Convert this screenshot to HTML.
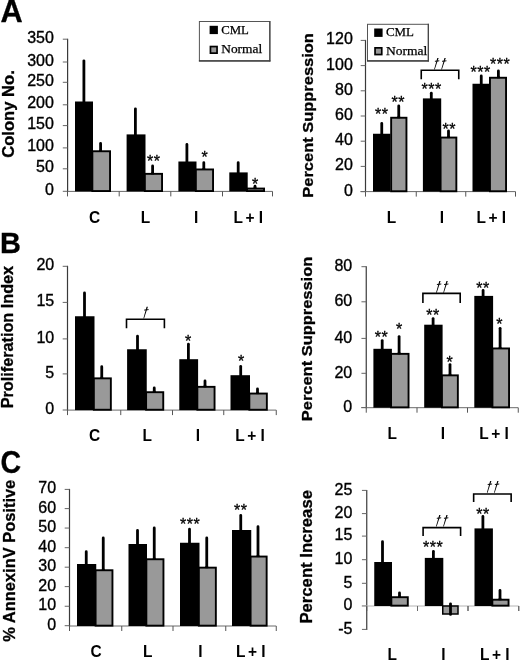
<!DOCTYPE html>
<html><head><meta charset="utf-8"><title>Figure</title>
<style>html,body{margin:0;padding:0;background:#fff;}body{width:520px;height:662px;overflow:hidden;font-family:"Liberation Sans",sans-serif;}svg{display:block;will-change:transform;filter:grayscale(1);}</style>
</head><body>
<svg width="520" height="662" viewBox="0 0 520 662">
<rect x="0" y="0" width="520" height="662" fill="#ffffff"/>
<text x="0.6" y="22.3" font-family='"Liberation Sans", sans-serif' font-size="31" font-weight="bold" font-style="normal" text-anchor="start" textLength="22.2" lengthAdjust="spacingAndGlyphs" stroke="#000" stroke-width="0.3">A</text>
<text x="0" y="252.9" font-family='"Liberation Sans", sans-serif' font-size="30" font-weight="bold" font-style="normal" text-anchor="start" textLength="20.9" lengthAdjust="spacingAndGlyphs" stroke="#000" stroke-width="0.3">B</text>
<text x="0.4" y="472.5" font-family='"Liberation Sans", sans-serif' font-size="31.5" font-weight="bold" font-style="normal" text-anchor="start" textLength="20.6" lengthAdjust="spacingAndGlyphs" stroke="#000" stroke-width="0.3">C</text>
<line x1="67.6" y1="38.7" x2="67.6" y2="191.9" stroke="#3a3a3a" stroke-width="1.2" stroke-linecap="butt"/>
<line x1="62.8" y1="191.3" x2="67.6" y2="191.3" stroke="#666666" stroke-width="1" stroke-linecap="butt"/>
<text x="53.9" y="194.8" font-family='"Liberation Sans", sans-serif' font-size="16" font-weight="normal" font-style="normal" text-anchor="end" textLength="8.9" lengthAdjust="spacingAndGlyphs" stroke="#000" stroke-width="0.35">0</text>
<line x1="62.8" y1="168.8" x2="67.6" y2="168.8" stroke="#666666" stroke-width="1" stroke-linecap="butt"/>
<text x="53.9" y="172.3" font-family='"Liberation Sans", sans-serif' font-size="16" font-weight="normal" font-style="normal" text-anchor="end" textLength="17.8" lengthAdjust="spacingAndGlyphs" stroke="#000" stroke-width="0.35">50</text>
<line x1="62.8" y1="147.9" x2="67.6" y2="147.9" stroke="#666666" stroke-width="1" stroke-linecap="butt"/>
<text x="53.9" y="151.4" font-family='"Liberation Sans", sans-serif' font-size="16" font-weight="normal" font-style="normal" text-anchor="end" textLength="26.7" lengthAdjust="spacingAndGlyphs" stroke="#000" stroke-width="0.35">100</text>
<line x1="62.8" y1="125.6" x2="67.6" y2="125.6" stroke="#666666" stroke-width="1" stroke-linecap="butt"/>
<text x="53.9" y="129.1" font-family='"Liberation Sans", sans-serif' font-size="16" font-weight="normal" font-style="normal" text-anchor="end" textLength="26.7" lengthAdjust="spacingAndGlyphs" stroke="#000" stroke-width="0.35">150</text>
<line x1="62.8" y1="104.8" x2="67.6" y2="104.8" stroke="#666666" stroke-width="1" stroke-linecap="butt"/>
<text x="53.9" y="108.3" font-family='"Liberation Sans", sans-serif' font-size="16" font-weight="normal" font-style="normal" text-anchor="end" textLength="26.7" lengthAdjust="spacingAndGlyphs" stroke="#000" stroke-width="0.35">200</text>
<line x1="62.8" y1="82.3" x2="67.6" y2="82.3" stroke="#666666" stroke-width="1" stroke-linecap="butt"/>
<text x="53.9" y="85.8" font-family='"Liberation Sans", sans-serif' font-size="16" font-weight="normal" font-style="normal" text-anchor="end" textLength="26.7" lengthAdjust="spacingAndGlyphs" stroke="#000" stroke-width="0.35">250</text>
<line x1="62.8" y1="62" x2="67.6" y2="62" stroke="#666666" stroke-width="1" stroke-linecap="butt"/>
<text x="53.9" y="65.5" font-family='"Liberation Sans", sans-serif' font-size="16" font-weight="normal" font-style="normal" text-anchor="end" textLength="26.7" lengthAdjust="spacingAndGlyphs" stroke="#000" stroke-width="0.35">300</text>
<line x1="62.8" y1="39.2" x2="67.6" y2="39.2" stroke="#666666" stroke-width="1" stroke-linecap="butt"/>
<text x="53.9" y="42.7" font-family='"Liberation Sans", sans-serif' font-size="16" font-weight="normal" font-style="normal" text-anchor="end" textLength="26.7" lengthAdjust="spacingAndGlyphs" stroke="#000" stroke-width="0.35">350</text>
<line x1="67.5" y1="191.4" x2="272.5" y2="191.4" stroke="#6a6a6a" stroke-width="1" stroke-linecap="butt"/>
<line x1="67.5" y1="191.4" x2="67.5" y2="196.4" stroke="#555" stroke-width="1" stroke-linecap="butt"/>
<line x1="119.2" y1="191.4" x2="119.2" y2="196.4" stroke="#555" stroke-width="1" stroke-linecap="butt"/>
<line x1="170.8" y1="191.4" x2="170.8" y2="196.4" stroke="#555" stroke-width="1" stroke-linecap="butt"/>
<line x1="222.5" y1="191.4" x2="222.5" y2="196.4" stroke="#555" stroke-width="1" stroke-linecap="butt"/>
<line x1="272.5" y1="191.4" x2="272.5" y2="196.4" stroke="#555" stroke-width="1" stroke-linecap="butt"/>
<line x1="83.9" y1="60.8" x2="83.9" y2="102.5" stroke="#000" stroke-width="2.8" stroke-linecap="round"/>
<rect x="75" y="101.5" width="18" height="89.9" fill="#000"/>
<line x1="100.6" y1="143.4" x2="100.6" y2="151.3" stroke="#000" stroke-width="2.8" stroke-linecap="round"/>
<rect x="92.35" y="151.25" width="17.7" height="39.8" fill="#999999" stroke="#000" stroke-width="1.9"/>
<line x1="100.6" y1="149.8" x2="100.6" y2="151.8" stroke="#000" stroke-width="2.8" stroke-linecap="butt"/>
<line x1="135.4" y1="108.8" x2="135.4" y2="135.4" stroke="#000" stroke-width="2.8" stroke-linecap="round"/>
<rect x="126.6" y="134.4" width="18.9" height="57" fill="#000"/>
<line x1="152.6" y1="165.9" x2="152.6" y2="173.9" stroke="#000" stroke-width="2.8" stroke-linecap="round"/>
<rect x="144.85" y="173.85" width="17.2" height="17.2" fill="#999999" stroke="#000" stroke-width="1.9"/>
<line x1="152.6" y1="172.4" x2="152.6" y2="174.4" stroke="#000" stroke-width="2.8" stroke-linecap="butt"/>
<line x1="186.9" y1="144.5" x2="186.9" y2="162.5" stroke="#000" stroke-width="2.8" stroke-linecap="round"/>
<rect x="178.4" y="161.5" width="18.1" height="29.9" fill="#000"/>
<line x1="203.8" y1="162.7" x2="203.8" y2="169.5" stroke="#000" stroke-width="2.8" stroke-linecap="round"/>
<rect x="195.85" y="169.45" width="17.2" height="21.6" fill="#999999" stroke="#000" stroke-width="1.9"/>
<line x1="203.8" y1="168" x2="203.8" y2="170" stroke="#000" stroke-width="2.8" stroke-linecap="butt"/>
<line x1="238.2" y1="162.7" x2="238.2" y2="173.4" stroke="#000" stroke-width="2.8" stroke-linecap="round"/>
<rect x="229.3" y="172.4" width="18.4" height="19" fill="#000"/>
<line x1="255" y1="186.2" x2="255" y2="188.6" stroke="#000" stroke-width="2.8" stroke-linecap="round"/>
<rect x="247.05" y="188.55" width="17" height="2.5" fill="#999999" stroke="#000" stroke-width="1.9"/>
<line x1="255" y1="187.1" x2="255" y2="189.1" stroke="#000" stroke-width="2.8" stroke-linecap="butt"/>
<text x="153.75" y="167.06" font-family='"Liberation Sans", sans-serif' font-size="16" font-weight="normal" font-style="normal" text-anchor="middle" letter-spacing="0.5" stroke="#000" stroke-width="0.3">**</text>
<text x="204.75" y="163.46" font-family='"Liberation Sans", sans-serif' font-size="16" font-weight="normal" font-style="normal" text-anchor="middle" letter-spacing="0.5" stroke="#000" stroke-width="0.3">*</text>
<text x="255.45" y="189.76" font-family='"Liberation Sans", sans-serif' font-size="16" font-weight="normal" font-style="normal" text-anchor="middle" letter-spacing="0.5" stroke="#000" stroke-width="0.3">*</text>
<text transform="translate(94.5,222.7) scale(0.91,1)" x="0" y="0" font-family='"Liberation Sans", sans-serif' font-size="17" font-weight="bold" text-anchor="middle">C</text>
<text transform="translate(145.4,222.7) scale(0.91,1)" x="0" y="0" font-family='"Liberation Sans", sans-serif' font-size="17" font-weight="bold" text-anchor="middle">L</text>
<text transform="translate(196.25,222.7) scale(0.91,1)" x="0" y="0" font-family='"Liberation Sans", sans-serif' font-size="17" font-weight="bold" text-anchor="middle">I</text>
<text transform="translate(234.5,222.7) scale(0.91,1)" x="-1.24 12.07 26.6" y="0" font-family='"Liberation Sans", sans-serif' font-size="17" font-weight="bold">L+I</text>
<text transform="translate(13.8,114) rotate(-90)" x="0" y="0" font-family='"Liberation Sans", sans-serif' font-size="16.2" font-weight="bold" text-anchor="middle" stroke="#000" stroke-width="0.3" textLength="87.5" lengthAdjust="spacingAndGlyphs">Colony No.</text>
<rect x="199.4" y="21.5" width="70.5" height="39.5" fill="#fff" stroke="#555" stroke-width="1"/>
<line x1="198.9" y1="60.9" x2="270.4" y2="60.9" stroke="#333" stroke-width="1.3" stroke-linecap="butt"/>
<line x1="269.8" y1="21" x2="269.8" y2="61.5" stroke="#444" stroke-width="1.2" stroke-linecap="butt"/>
<rect x="209.6" y="25.8" width="8.3" height="8.3" fill="#000"/>
<rect x="210.45" y="46.55" width="6.6" height="6.6" fill="#999999" stroke="#000" stroke-width="1.7"/>
<text x="221.2" y="33.8" font-family='"Liberation Serif", serif' font-size="13" font-weight="normal" font-style="normal" text-anchor="start" textLength="27.7" lengthAdjust="spacingAndGlyphs" stroke="#000" stroke-width="0.25">CML</text>
<text x="221.2" y="53.2" font-family='"Liberation Serif", serif' font-size="13" font-weight="normal" font-style="normal" text-anchor="start" textLength="41" lengthAdjust="spacingAndGlyphs" stroke="#000" stroke-width="0.25">Normal</text>
<line x1="365.5" y1="39.9" x2="365.5" y2="192.1" stroke="#3a3a3a" stroke-width="1.2" stroke-linecap="butt"/>
<line x1="360.7" y1="191.6" x2="365.5" y2="191.6" stroke="#666666" stroke-width="1" stroke-linecap="butt"/>
<text x="352.8" y="195.5" font-family='"Liberation Sans", sans-serif' font-size="16" font-weight="normal" font-style="normal" text-anchor="end" textLength="8.9" lengthAdjust="spacingAndGlyphs" stroke="#000" stroke-width="0.35">0</text>
<line x1="360.7" y1="166.4" x2="365.5" y2="166.4" stroke="#666666" stroke-width="1" stroke-linecap="butt"/>
<text x="352.8" y="170.3" font-family='"Liberation Sans", sans-serif' font-size="16" font-weight="normal" font-style="normal" text-anchor="end" textLength="17.8" lengthAdjust="spacingAndGlyphs" stroke="#000" stroke-width="0.35">20</text>
<line x1="360.7" y1="141.2" x2="365.5" y2="141.2" stroke="#666666" stroke-width="1" stroke-linecap="butt"/>
<text x="352.8" y="145.1" font-family='"Liberation Sans", sans-serif' font-size="16" font-weight="normal" font-style="normal" text-anchor="end" textLength="17.8" lengthAdjust="spacingAndGlyphs" stroke="#000" stroke-width="0.35">40</text>
<line x1="360.7" y1="116" x2="365.5" y2="116" stroke="#666666" stroke-width="1" stroke-linecap="butt"/>
<text x="352.8" y="119.9" font-family='"Liberation Sans", sans-serif' font-size="16" font-weight="normal" font-style="normal" text-anchor="end" textLength="17.8" lengthAdjust="spacingAndGlyphs" stroke="#000" stroke-width="0.35">60</text>
<line x1="360.7" y1="90.8" x2="365.5" y2="90.8" stroke="#666666" stroke-width="1" stroke-linecap="butt"/>
<text x="352.8" y="94.7" font-family='"Liberation Sans", sans-serif' font-size="16" font-weight="normal" font-style="normal" text-anchor="end" textLength="17.8" lengthAdjust="spacingAndGlyphs" stroke="#000" stroke-width="0.35">80</text>
<line x1="360.7" y1="65.6" x2="365.5" y2="65.6" stroke="#666666" stroke-width="1" stroke-linecap="butt"/>
<text x="352.8" y="69.5" font-family='"Liberation Sans", sans-serif' font-size="16" font-weight="normal" font-style="normal" text-anchor="end" textLength="26.7" lengthAdjust="spacingAndGlyphs" stroke="#000" stroke-width="0.35">100</text>
<line x1="360.7" y1="40.4" x2="365.5" y2="40.4" stroke="#666666" stroke-width="1" stroke-linecap="butt"/>
<text x="352.8" y="44.3" font-family='"Liberation Sans", sans-serif' font-size="16" font-weight="normal" font-style="normal" text-anchor="end" textLength="26.7" lengthAdjust="spacingAndGlyphs" stroke="#000" stroke-width="0.35">120</text>
<line x1="360.5" y1="191.6" x2="515.5" y2="191.6" stroke="#6a6a6a" stroke-width="1" stroke-linecap="butt"/>
<line x1="365.5" y1="191.6" x2="365.5" y2="196.6" stroke="#555" stroke-width="1" stroke-linecap="butt"/>
<line x1="416.25" y1="191.6" x2="416.25" y2="196.6" stroke="#555" stroke-width="1" stroke-linecap="butt"/>
<line x1="465.75" y1="191.6" x2="465.75" y2="196.6" stroke="#555" stroke-width="1" stroke-linecap="butt"/>
<line x1="515.5" y1="191.6" x2="515.5" y2="196.6" stroke="#555" stroke-width="1" stroke-linecap="butt"/>
<line x1="381.75" y1="123.4" x2="381.75" y2="134.75" stroke="#000" stroke-width="2.8" stroke-linecap="round"/>
<rect x="373" y="133.75" width="17.5" height="57.85" fill="#000"/>
<line x1="398.75" y1="105.9" x2="398.75" y2="117.8" stroke="#000" stroke-width="2.8" stroke-linecap="round"/>
<rect x="391.15" y="117.75" width="15.3" height="73.5" fill="#999999" stroke="#000" stroke-width="1.9"/>
<line x1="398.75" y1="116.3" x2="398.75" y2="118.3" stroke="#000" stroke-width="2.8" stroke-linecap="butt"/>
<line x1="431.3" y1="93.2" x2="431.3" y2="99.4" stroke="#000" stroke-width="2.8" stroke-linecap="round"/>
<rect x="422.9" y="98.4" width="18.3" height="93.2" fill="#000"/>
<line x1="448.5" y1="130.9" x2="448.5" y2="137.6" stroke="#000" stroke-width="2.8" stroke-linecap="round"/>
<rect x="440.6" y="137.55" width="15.75" height="53.7" fill="#999999" stroke="#000" stroke-width="1.9"/>
<line x1="448.5" y1="136.1" x2="448.5" y2="138.1" stroke="#000" stroke-width="2.8" stroke-linecap="butt"/>
<line x1="481.25" y1="75.9" x2="481.25" y2="84.75" stroke="#000" stroke-width="2.8" stroke-linecap="round"/>
<rect x="472.5" y="83.75" width="18.25" height="107.85" fill="#000"/>
<line x1="498.4" y1="70.9" x2="498.4" y2="77.8" stroke="#000" stroke-width="2.8" stroke-linecap="round"/>
<rect x="489.95" y="77.75" width="16.1" height="113.5" fill="#999999" stroke="#000" stroke-width="1.9"/>
<line x1="498.4" y1="76.3" x2="498.4" y2="78.3" stroke="#000" stroke-width="2.8" stroke-linecap="butt"/>
<text x="381.75" y="120.36" font-family='"Liberation Sans", sans-serif' font-size="16" font-weight="normal" font-style="normal" text-anchor="middle" letter-spacing="0.5" stroke="#000" stroke-width="0.3">**</text>
<text x="398.25" y="107.86" font-family='"Liberation Sans", sans-serif' font-size="16" font-weight="normal" font-style="normal" text-anchor="middle" letter-spacing="0.5" stroke="#000" stroke-width="0.3">**</text>
<text x="431.65" y="94.66" font-family='"Liberation Sans", sans-serif' font-size="16" font-weight="normal" font-style="normal" text-anchor="middle" letter-spacing="0.5" stroke="#000" stroke-width="0.3">***</text>
<text x="449.35" y="134.86" font-family='"Liberation Sans", sans-serif' font-size="16" font-weight="normal" font-style="normal" text-anchor="middle" letter-spacing="0.5" stroke="#000" stroke-width="0.3">**</text>
<text x="480.55" y="78.36" font-family='"Liberation Sans", sans-serif' font-size="16" font-weight="normal" font-style="normal" text-anchor="middle" letter-spacing="0.5" stroke="#000" stroke-width="0.3">***</text>
<text x="500.2" y="70.36" font-family='"Liberation Sans", sans-serif' font-size="16" font-weight="normal" font-style="normal" text-anchor="middle" letter-spacing="0.5" stroke="#000" stroke-width="0.3">***</text>
<path d="M421.25 79.2 V70.3 H458.75 V79.2" fill="none" stroke="#000" stroke-width="1.6" stroke-linejoin="miter"/>
<path d="M434.05 69.6 L437.3 57.9 L438.6 57.9 L434.75 69.6 Z" fill="#000"/>
<line x1="434.9" y1="61.3" x2="439.3" y2="60.8" stroke="#000" stroke-width="0.95" stroke-linecap="butt"/>
<path d="M441.2 69.6 L444.45 57.9 L445.75 57.9 L441.9 69.6 Z" fill="#000"/>
<line x1="442.05" y1="61.3" x2="446.45" y2="60.8" stroke="#000" stroke-width="0.95" stroke-linecap="butt"/>
<text transform="translate(391.5,222.5) scale(0.91,1)" x="0" y="0" font-family='"Liberation Sans", sans-serif' font-size="17" font-weight="bold" text-anchor="middle">L</text>
<text transform="translate(441.95,222.5) scale(0.91,1)" x="0" y="0" font-family='"Liberation Sans", sans-serif' font-size="17" font-weight="bold" text-anchor="middle">I</text>
<text transform="translate(477.6,222.5) scale(0.91,1)" x="-1.24 12.07 26.6" y="0" font-family='"Liberation Sans", sans-serif' font-size="17" font-weight="bold">L+I</text>
<text transform="translate(313,115.4) rotate(-90)" x="0" y="0" font-family='"Liberation Sans", sans-serif' font-size="15" font-weight="bold" text-anchor="middle" stroke="#000" stroke-width="0.3" textLength="164.5" lengthAdjust="spacingAndGlyphs">Percent Suppression</text>
<rect x="367.5" y="24.3" width="60.9" height="36.7" fill="#fff" stroke="#555" stroke-width="1"/>
<line x1="367" y1="60.9" x2="428.9" y2="60.9" stroke="#333" stroke-width="1.3" stroke-linecap="butt"/>
<line x1="428.3" y1="23.8" x2="428.3" y2="61.5" stroke="#444" stroke-width="1.2" stroke-linecap="butt"/>
<rect x="374.2" y="28.5" width="8.4" height="8.4" fill="#000"/>
<rect x="375.05" y="47.85" width="6.7" height="6.7" fill="#999999" stroke="#000" stroke-width="1.7"/>
<text x="385.9" y="36.1" font-family='"Liberation Serif", serif' font-size="13" font-weight="normal" font-style="normal" text-anchor="start" textLength="28" lengthAdjust="spacingAndGlyphs" stroke="#000" stroke-width="0.25">CML</text>
<text x="385.9" y="54.8" font-family='"Liberation Serif", serif' font-size="13" font-weight="normal" font-style="normal" text-anchor="start" textLength="41.4" lengthAdjust="spacingAndGlyphs" stroke="#000" stroke-width="0.25">Normal</text>
<line x1="67.5" y1="265.8" x2="67.5" y2="410.6" stroke="#3a3a3a" stroke-width="1.2" stroke-linecap="butt"/>
<line x1="62.7" y1="410" x2="67.5" y2="410" stroke="#666666" stroke-width="1" stroke-linecap="butt"/>
<text x="54.2" y="413.9" font-family='"Liberation Sans", sans-serif' font-size="16" font-weight="normal" font-style="normal" text-anchor="end" textLength="8.9" lengthAdjust="spacingAndGlyphs" stroke="#000" stroke-width="0.35">0</text>
<line x1="62.7" y1="373.9" x2="67.5" y2="373.9" stroke="#666666" stroke-width="1" stroke-linecap="butt"/>
<text x="54.2" y="377.8" font-family='"Liberation Sans", sans-serif' font-size="16" font-weight="normal" font-style="normal" text-anchor="end" textLength="8.9" lengthAdjust="spacingAndGlyphs" stroke="#000" stroke-width="0.35">5</text>
<line x1="62.7" y1="338.9" x2="67.5" y2="338.9" stroke="#666666" stroke-width="1" stroke-linecap="butt"/>
<text x="54.2" y="342.8" font-family='"Liberation Sans", sans-serif' font-size="16" font-weight="normal" font-style="normal" text-anchor="end" textLength="17.8" lengthAdjust="spacingAndGlyphs" stroke="#000" stroke-width="0.35">10</text>
<line x1="62.7" y1="302.4" x2="67.5" y2="302.4" stroke="#666666" stroke-width="1" stroke-linecap="butt"/>
<text x="54.2" y="306.3" font-family='"Liberation Sans", sans-serif' font-size="16" font-weight="normal" font-style="normal" text-anchor="end" textLength="17.8" lengthAdjust="spacingAndGlyphs" stroke="#000" stroke-width="0.35">15</text>
<line x1="62.7" y1="266.3" x2="67.5" y2="266.3" stroke="#666666" stroke-width="1" stroke-linecap="butt"/>
<text x="54.2" y="270.2" font-family='"Liberation Sans", sans-serif' font-size="16" font-weight="normal" font-style="normal" text-anchor="end" textLength="17.8" lengthAdjust="spacingAndGlyphs" stroke="#000" stroke-width="0.35">20</text>
<line x1="67.5" y1="410.1" x2="276.25" y2="410.1" stroke="#6a6a6a" stroke-width="1" stroke-linecap="butt"/>
<line x1="67.5" y1="410.1" x2="67.5" y2="415.1" stroke="#555" stroke-width="1" stroke-linecap="butt"/>
<line x1="120.75" y1="410.1" x2="120.75" y2="415.1" stroke="#555" stroke-width="1" stroke-linecap="butt"/>
<line x1="172.5" y1="410.1" x2="172.5" y2="415.1" stroke="#555" stroke-width="1" stroke-linecap="butt"/>
<line x1="223.75" y1="410.1" x2="223.75" y2="415.1" stroke="#555" stroke-width="1" stroke-linecap="butt"/>
<line x1="276.25" y1="410.1" x2="276.25" y2="415.1" stroke="#555" stroke-width="1" stroke-linecap="butt"/>
<line x1="84.5" y1="292.9" x2="84.5" y2="317.25" stroke="#000" stroke-width="2.8" stroke-linecap="round"/>
<rect x="75" y="316.25" width="19.5" height="93.85" fill="#000"/>
<line x1="101.75" y1="366.65" x2="101.75" y2="378.4" stroke="#000" stroke-width="2.8" stroke-linecap="round"/>
<rect x="93.85" y="378.35" width="17" height="31.4" fill="#999999" stroke="#000" stroke-width="1.9"/>
<line x1="101.75" y1="376.9" x2="101.75" y2="378.9" stroke="#000" stroke-width="2.8" stroke-linecap="butt"/>
<line x1="137.5" y1="336.2" x2="137.5" y2="350.25" stroke="#000" stroke-width="2.8" stroke-linecap="round"/>
<rect x="127.1" y="349.25" width="19.65" height="60.85" fill="#000"/>
<line x1="154.25" y1="387.9" x2="154.25" y2="392.25" stroke="#000" stroke-width="2.8" stroke-linecap="round"/>
<rect x="146.1" y="392.2" width="17.15" height="17.55" fill="#999999" stroke="#000" stroke-width="1.9"/>
<line x1="154.25" y1="390.75" x2="154.25" y2="392.75" stroke="#000" stroke-width="2.8" stroke-linecap="butt"/>
<line x1="188.4" y1="344.2" x2="188.4" y2="360.2" stroke="#000" stroke-width="2.8" stroke-linecap="round"/>
<rect x="179.3" y="359.2" width="18.8" height="50.9" fill="#000"/>
<line x1="205" y1="380.9" x2="205" y2="386.9" stroke="#000" stroke-width="2.8" stroke-linecap="round"/>
<rect x="197.35" y="386.85" width="17.2" height="22.9" fill="#999999" stroke="#000" stroke-width="1.9"/>
<line x1="205" y1="385.4" x2="205" y2="387.4" stroke="#000" stroke-width="2.8" stroke-linecap="butt"/>
<line x1="240.7" y1="366.4" x2="240.7" y2="376.2" stroke="#000" stroke-width="2.8" stroke-linecap="round"/>
<rect x="230.5" y="375.2" width="19.5" height="34.9" fill="#000"/>
<line x1="257.5" y1="388.9" x2="257.5" y2="393.6" stroke="#000" stroke-width="2.8" stroke-linecap="round"/>
<rect x="249.35" y="393.55" width="17.5" height="16.2" fill="#999999" stroke="#000" stroke-width="1.9"/>
<line x1="257.5" y1="392.1" x2="257.5" y2="394.1" stroke="#000" stroke-width="2.8" stroke-linecap="butt"/>
<text x="188.45" y="346.96" font-family='"Liberation Sans", sans-serif' font-size="16" font-weight="normal" font-style="normal" text-anchor="middle" letter-spacing="0.5" stroke="#000" stroke-width="0.3">*</text>
<text x="241.25" y="367.36" font-family='"Liberation Sans", sans-serif' font-size="16" font-weight="normal" font-style="normal" text-anchor="middle" letter-spacing="0.5" stroke="#000" stroke-width="0.3">*</text>
<path d="M126.5 328.3 V319.2 H164.4 V328.3" fill="none" stroke="#000" stroke-width="1.6" stroke-linejoin="miter"/>
<path d="M143.35 318.4 L146.6 306.7 L147.9 306.7 L144.05 318.4 Z" fill="#000"/>
<line x1="144.2" y1="310.1" x2="148.6" y2="309.6" stroke="#000" stroke-width="0.95" stroke-linecap="butt"/>
<text transform="translate(94.6,440.8) scale(0.91,1)" x="0" y="0" font-family='"Liberation Sans", sans-serif' font-size="17" font-weight="bold" text-anchor="middle">C</text>
<text transform="translate(147.3,440.8) scale(0.91,1)" x="0" y="0" font-family='"Liberation Sans", sans-serif' font-size="17" font-weight="bold" text-anchor="middle">L</text>
<text transform="translate(198,440.8) scale(0.91,1)" x="0" y="0" font-family='"Liberation Sans", sans-serif' font-size="17" font-weight="bold" text-anchor="middle">I</text>
<text transform="translate(236.25,440.8) scale(0.91,1)" x="-1.24 12.07 26.6" y="0" font-family='"Liberation Sans", sans-serif' font-size="17" font-weight="bold">L+I</text>
<text transform="translate(13.3,337.1) rotate(-90)" x="0" y="0" font-family='"Liberation Sans", sans-serif' font-size="16.2" font-weight="bold" text-anchor="middle" stroke="#000" stroke-width="0.3" textLength="142.5" lengthAdjust="spacingAndGlyphs">Proliferation Index</text>
<line x1="366.25" y1="266.2" x2="366.25" y2="408.2" stroke="#3a3a3a" stroke-width="1.2" stroke-linecap="butt"/>
<line x1="361.45" y1="407.5" x2="366.25" y2="407.5" stroke="#666666" stroke-width="1" stroke-linecap="butt"/>
<text x="352.2" y="411.9" font-family='"Liberation Sans", sans-serif' font-size="16" font-weight="normal" font-style="normal" text-anchor="end" textLength="8.9" lengthAdjust="spacingAndGlyphs" stroke="#000" stroke-width="0.35">0</text>
<line x1="361.45" y1="373.3" x2="366.25" y2="373.3" stroke="#666666" stroke-width="1" stroke-linecap="butt"/>
<text x="352.2" y="377.7" font-family='"Liberation Sans", sans-serif' font-size="16" font-weight="normal" font-style="normal" text-anchor="end" textLength="17.8" lengthAdjust="spacingAndGlyphs" stroke="#000" stroke-width="0.35">20</text>
<line x1="361.45" y1="338.4" x2="366.25" y2="338.4" stroke="#666666" stroke-width="1" stroke-linecap="butt"/>
<text x="352.2" y="342.8" font-family='"Liberation Sans", sans-serif' font-size="16" font-weight="normal" font-style="normal" text-anchor="end" textLength="17.8" lengthAdjust="spacingAndGlyphs" stroke="#000" stroke-width="0.35">40</text>
<line x1="361.45" y1="301.8" x2="366.25" y2="301.8" stroke="#666666" stroke-width="1" stroke-linecap="butt"/>
<text x="352.2" y="306.2" font-family='"Liberation Sans", sans-serif' font-size="16" font-weight="normal" font-style="normal" text-anchor="end" textLength="17.8" lengthAdjust="spacingAndGlyphs" stroke="#000" stroke-width="0.35">60</text>
<line x1="361.45" y1="266.7" x2="366.25" y2="266.7" stroke="#666666" stroke-width="1" stroke-linecap="butt"/>
<text x="352.2" y="271.1" font-family='"Liberation Sans", sans-serif' font-size="16" font-weight="normal" font-style="normal" text-anchor="end" textLength="17.8" lengthAdjust="spacingAndGlyphs" stroke="#000" stroke-width="0.35">80</text>
<line x1="361.25" y1="407.7" x2="518.25" y2="407.7" stroke="#6a6a6a" stroke-width="1" stroke-linecap="butt"/>
<line x1="366.25" y1="407.7" x2="366.25" y2="412.7" stroke="#555" stroke-width="1" stroke-linecap="butt"/>
<line x1="417" y1="407.7" x2="417" y2="412.7" stroke="#555" stroke-width="1" stroke-linecap="butt"/>
<line x1="467.5" y1="407.7" x2="467.5" y2="412.7" stroke="#555" stroke-width="1" stroke-linecap="butt"/>
<line x1="518.25" y1="407.7" x2="518.25" y2="412.7" stroke="#555" stroke-width="1" stroke-linecap="butt"/>
<line x1="382.2" y1="340.6" x2="382.2" y2="349.8" stroke="#000" stroke-width="2.8" stroke-linecap="round"/>
<rect x="373.4" y="348.8" width="18.5" height="58.9" fill="#000"/>
<line x1="399.1" y1="336.6" x2="399.1" y2="353.9" stroke="#000" stroke-width="2.8" stroke-linecap="round"/>
<rect x="391.05" y="353.85" width="17.5" height="53.5" fill="#999999" stroke="#000" stroke-width="1.9"/>
<line x1="399.1" y1="352.4" x2="399.1" y2="354.4" stroke="#000" stroke-width="2.8" stroke-linecap="butt"/>
<line x1="433.1" y1="318.6" x2="433.1" y2="325.7" stroke="#000" stroke-width="2.8" stroke-linecap="round"/>
<rect x="424.2" y="324.7" width="18.4" height="83" fill="#000"/>
<line x1="450" y1="364.6" x2="450" y2="375.4" stroke="#000" stroke-width="2.8" stroke-linecap="round"/>
<rect x="441.95" y="375.35" width="15.9" height="32" fill="#999999" stroke="#000" stroke-width="1.9"/>
<line x1="450" y1="373.9" x2="450" y2="375.9" stroke="#000" stroke-width="2.8" stroke-linecap="butt"/>
<line x1="483.1" y1="290.5" x2="483.1" y2="296.9" stroke="#000" stroke-width="2.8" stroke-linecap="round"/>
<rect x="474.3" y="295.9" width="18.8" height="111.8" fill="#000"/>
<line x1="500.1" y1="328.3" x2="500.1" y2="348.5" stroke="#000" stroke-width="2.8" stroke-linecap="round"/>
<rect x="492.45" y="348.45" width="16.6" height="58.9" fill="#999999" stroke="#000" stroke-width="1.9"/>
<line x1="500.1" y1="347" x2="500.1" y2="349" stroke="#000" stroke-width="2.8" stroke-linecap="butt"/>
<text x="381.45" y="343.46" font-family='"Liberation Sans", sans-serif' font-size="16" font-weight="normal" font-style="normal" text-anchor="middle" letter-spacing="0.5" stroke="#000" stroke-width="0.3">**</text>
<text x="399.45" y="335.46" font-family='"Liberation Sans", sans-serif' font-size="16" font-weight="normal" font-style="normal" text-anchor="middle" letter-spacing="0.5" stroke="#000" stroke-width="0.3">*</text>
<text x="432.95" y="320.86" font-family='"Liberation Sans", sans-serif' font-size="16" font-weight="normal" font-style="normal" text-anchor="middle" letter-spacing="0.5" stroke="#000" stroke-width="0.3">**</text>
<text x="449.85" y="367.86" font-family='"Liberation Sans", sans-serif' font-size="16" font-weight="normal" font-style="normal" text-anchor="middle" letter-spacing="0.5" stroke="#000" stroke-width="0.3">*</text>
<text x="483.05" y="294.26" font-family='"Liberation Sans", sans-serif' font-size="16" font-weight="normal" font-style="normal" text-anchor="middle" letter-spacing="0.5" stroke="#000" stroke-width="0.3">**</text>
<text x="499.65" y="330.46" font-family='"Liberation Sans", sans-serif' font-size="16" font-weight="normal" font-style="normal" text-anchor="middle" letter-spacing="0.5" stroke="#000" stroke-width="0.3">*</text>
<path d="M422.9 303 V293.4 H460.2 V303" fill="none" stroke="#000" stroke-width="1.6" stroke-linejoin="miter"/>
<path d="M436.05 292.8 L439.3 281.1 L440.6 281.1 L436.75 292.8 Z" fill="#000"/>
<line x1="436.9" y1="284.5" x2="441.3" y2="284" stroke="#000" stroke-width="0.95" stroke-linecap="butt"/>
<path d="M443.2 292.8 L446.45 281.1 L447.75 281.1 L443.9 292.8 Z" fill="#000"/>
<line x1="444.05" y1="284.5" x2="448.45" y2="284" stroke="#000" stroke-width="0.95" stroke-linecap="butt"/>
<text transform="translate(392.3,438.8) scale(0.91,1)" x="0" y="0" font-family='"Liberation Sans", sans-serif' font-size="17" font-weight="bold" text-anchor="middle">L</text>
<text transform="translate(442.85,438.8) scale(0.91,1)" x="0" y="0" font-family='"Liberation Sans", sans-serif' font-size="17" font-weight="bold" text-anchor="middle">I</text>
<text transform="translate(480.3,438.8) scale(0.91,1)" x="-1.24 12.07 26.6" y="0" font-family='"Liberation Sans", sans-serif' font-size="17" font-weight="bold">L+I</text>
<text transform="translate(311.8,339) rotate(-90)" x="0" y="0" font-family='"Liberation Sans", sans-serif' font-size="15" font-weight="bold" text-anchor="middle" stroke="#000" stroke-width="0.3" textLength="164.4" lengthAdjust="spacingAndGlyphs">Percent Suppression</text>
<line x1="69.5" y1="488.9" x2="69.5" y2="626.5" stroke="#3a3a3a" stroke-width="1.2" stroke-linecap="butt"/>
<line x1="64.7" y1="625.7" x2="69.5" y2="625.7" stroke="#666666" stroke-width="1" stroke-linecap="butt"/>
<text x="56.1" y="629.7" font-family='"Liberation Sans", sans-serif' font-size="16.5" font-weight="normal" font-style="normal" text-anchor="end" textLength="8.9" lengthAdjust="spacingAndGlyphs" stroke="#000" stroke-width="0.35">0</text>
<line x1="64.7" y1="606.25" x2="69.5" y2="606.25" stroke="#666666" stroke-width="1" stroke-linecap="butt"/>
<text x="56.1" y="610.25" font-family='"Liberation Sans", sans-serif' font-size="16.5" font-weight="normal" font-style="normal" text-anchor="end" textLength="17.8" lengthAdjust="spacingAndGlyphs" stroke="#000" stroke-width="0.35">10</text>
<line x1="64.7" y1="586.6" x2="69.5" y2="586.6" stroke="#666666" stroke-width="1" stroke-linecap="butt"/>
<text x="56.1" y="590.6" font-family='"Liberation Sans", sans-serif' font-size="16.5" font-weight="normal" font-style="normal" text-anchor="end" textLength="17.8" lengthAdjust="spacingAndGlyphs" stroke="#000" stroke-width="0.35">20</text>
<line x1="64.7" y1="567.2" x2="69.5" y2="567.2" stroke="#666666" stroke-width="1" stroke-linecap="butt"/>
<text x="56.1" y="571.2" font-family='"Liberation Sans", sans-serif' font-size="16.5" font-weight="normal" font-style="normal" text-anchor="end" textLength="17.8" lengthAdjust="spacingAndGlyphs" stroke="#000" stroke-width="0.35">30</text>
<line x1="64.7" y1="547.7" x2="69.5" y2="547.7" stroke="#666666" stroke-width="1" stroke-linecap="butt"/>
<text x="56.1" y="551.7" font-family='"Liberation Sans", sans-serif' font-size="16.5" font-weight="normal" font-style="normal" text-anchor="end" textLength="17.8" lengthAdjust="spacingAndGlyphs" stroke="#000" stroke-width="0.35">40</text>
<line x1="64.7" y1="528.05" x2="69.5" y2="528.05" stroke="#666666" stroke-width="1" stroke-linecap="butt"/>
<text x="56.1" y="532.05" font-family='"Liberation Sans", sans-serif' font-size="16.5" font-weight="normal" font-style="normal" text-anchor="end" textLength="17.8" lengthAdjust="spacingAndGlyphs" stroke="#000" stroke-width="0.35">50</text>
<line x1="64.7" y1="508.6" x2="69.5" y2="508.6" stroke="#666666" stroke-width="1" stroke-linecap="butt"/>
<text x="56.1" y="512.6" font-family='"Liberation Sans", sans-serif' font-size="16.5" font-weight="normal" font-style="normal" text-anchor="end" textLength="17.8" lengthAdjust="spacingAndGlyphs" stroke="#000" stroke-width="0.35">60</text>
<line x1="64.7" y1="489.4" x2="69.5" y2="489.4" stroke="#666666" stroke-width="1" stroke-linecap="butt"/>
<text x="56.1" y="493.4" font-family='"Liberation Sans", sans-serif' font-size="16.5" font-weight="normal" font-style="normal" text-anchor="end" textLength="17.8" lengthAdjust="spacingAndGlyphs" stroke="#000" stroke-width="0.35">70</text>
<line x1="69.5" y1="626" x2="276.25" y2="626" stroke="#6a6a6a" stroke-width="1" stroke-linecap="butt"/>
<line x1="69.5" y1="626" x2="69.5" y2="631" stroke="#555" stroke-width="1" stroke-linecap="butt"/>
<line x1="121.75" y1="626" x2="121.75" y2="631" stroke="#555" stroke-width="1" stroke-linecap="butt"/>
<line x1="173" y1="626" x2="173" y2="631" stroke="#555" stroke-width="1" stroke-linecap="butt"/>
<line x1="225.75" y1="626" x2="225.75" y2="631" stroke="#555" stroke-width="1" stroke-linecap="butt"/>
<line x1="276.25" y1="626" x2="276.25" y2="631" stroke="#555" stroke-width="1" stroke-linecap="butt"/>
<line x1="86.25" y1="551.65" x2="86.25" y2="565" stroke="#000" stroke-width="2.8" stroke-linecap="round"/>
<rect x="77" y="564" width="19.25" height="62" fill="#000"/>
<line x1="103.25" y1="537.9" x2="103.25" y2="570.3" stroke="#000" stroke-width="2.8" stroke-linecap="round"/>
<rect x="95.6" y="570.25" width="16.85" height="55.4" fill="#999999" stroke="#000" stroke-width="1.9"/>
<line x1="103.25" y1="568.8" x2="103.25" y2="570.8" stroke="#000" stroke-width="2.8" stroke-linecap="butt"/>
<line x1="137.5" y1="530.4" x2="137.5" y2="545" stroke="#000" stroke-width="2.8" stroke-linecap="round"/>
<rect x="128.5" y="544" width="18.5" height="82" fill="#000"/>
<line x1="154.25" y1="527.9" x2="154.25" y2="559.3" stroke="#000" stroke-width="2.8" stroke-linecap="round"/>
<rect x="146.35" y="559.25" width="17.1" height="66.4" fill="#999999" stroke="#000" stroke-width="1.9"/>
<line x1="154.25" y1="557.8" x2="154.25" y2="559.8" stroke="#000" stroke-width="2.8" stroke-linecap="butt"/>
<line x1="189.5" y1="529.15" x2="189.5" y2="543.75" stroke="#000" stroke-width="2.8" stroke-linecap="round"/>
<rect x="180" y="542.75" width="19.5" height="83.25" fill="#000"/>
<line x1="206.75" y1="537.9" x2="206.75" y2="567.7" stroke="#000" stroke-width="2.8" stroke-linecap="round"/>
<rect x="198.85" y="567.65" width="17" height="58" fill="#999999" stroke="#000" stroke-width="1.9"/>
<line x1="206.75" y1="566.2" x2="206.75" y2="568.2" stroke="#000" stroke-width="2.8" stroke-linecap="butt"/>
<line x1="240.75" y1="515.4" x2="240.75" y2="531" stroke="#000" stroke-width="2.8" stroke-linecap="round"/>
<rect x="232" y="530" width="19.25" height="96" fill="#000"/>
<line x1="258" y1="526.65" x2="258" y2="556.6" stroke="#000" stroke-width="2.8" stroke-linecap="round"/>
<rect x="250.6" y="556.55" width="16.05" height="69.1" fill="#999999" stroke="#000" stroke-width="1.9"/>
<line x1="258" y1="555.1" x2="258" y2="557.1" stroke="#000" stroke-width="2.8" stroke-linecap="butt"/>
<text x="190.1" y="529.76" font-family='"Liberation Sans", sans-serif' font-size="16" font-weight="normal" font-style="normal" text-anchor="middle" letter-spacing="0.5" stroke="#000" stroke-width="0.3">***</text>
<text x="240.75" y="516.26" font-family='"Liberation Sans", sans-serif' font-size="16" font-weight="normal" font-style="normal" text-anchor="middle" letter-spacing="0.5" stroke="#000" stroke-width="0.3">**</text>
<text transform="translate(96.15,656.9) scale(0.91,1)" x="0" y="0" font-family='"Liberation Sans", sans-serif' font-size="17" font-weight="bold" text-anchor="middle">C</text>
<text transform="translate(147.8,656.9) scale(0.91,1)" x="0" y="0" font-family='"Liberation Sans", sans-serif' font-size="17" font-weight="bold" text-anchor="middle">L</text>
<text transform="translate(200.5,656.9) scale(0.91,1)" x="0" y="0" font-family='"Liberation Sans", sans-serif' font-size="17" font-weight="bold" text-anchor="middle">I</text>
<text transform="translate(237,656.9) scale(0.91,1)" x="-1.24 12.07 26.6" y="0" font-family='"Liberation Sans", sans-serif' font-size="17" font-weight="bold">L+I</text>
<text transform="translate(14.9,560.75) rotate(-90)" x="0" y="0" font-family='"Liberation Sans", sans-serif' font-size="16.4" font-weight="bold" text-anchor="middle" stroke="#000" stroke-width="0.3" textLength="162" lengthAdjust="spacingAndGlyphs">% AnnexinV Positive</text>
<line x1="366.75" y1="489.9" x2="366.75" y2="629.9" stroke="#3a3a3a" stroke-width="1.2" stroke-linecap="butt"/>
<line x1="361.95" y1="629.4" x2="366.75" y2="629.4" stroke="#666666" stroke-width="1" stroke-linecap="butt"/>
<text x="352.4" y="633.6" font-family='"Liberation Sans", sans-serif' font-size="16" font-weight="normal" font-style="normal" text-anchor="end" textLength="14.23" lengthAdjust="spacingAndGlyphs" stroke="#000" stroke-width="0.35">-5</text>
<line x1="361.95" y1="605.9" x2="366.75" y2="605.9" stroke="#666666" stroke-width="1" stroke-linecap="butt"/>
<text x="352.4" y="610.1" font-family='"Liberation Sans", sans-serif' font-size="16" font-weight="normal" font-style="normal" text-anchor="end" textLength="8.9" lengthAdjust="spacingAndGlyphs" stroke="#000" stroke-width="0.35">0</text>
<line x1="361.95" y1="583.3" x2="366.75" y2="583.3" stroke="#666666" stroke-width="1" stroke-linecap="butt"/>
<text x="352.4" y="587.5" font-family='"Liberation Sans", sans-serif' font-size="16" font-weight="normal" font-style="normal" text-anchor="end" textLength="8.9" lengthAdjust="spacingAndGlyphs" stroke="#000" stroke-width="0.35">5</text>
<line x1="361.95" y1="559.7" x2="366.75" y2="559.7" stroke="#666666" stroke-width="1" stroke-linecap="butt"/>
<text x="352.4" y="563.9" font-family='"Liberation Sans", sans-serif' font-size="16" font-weight="normal" font-style="normal" text-anchor="end" textLength="17.8" lengthAdjust="spacingAndGlyphs" stroke="#000" stroke-width="0.35">10</text>
<line x1="361.95" y1="536.1" x2="366.75" y2="536.1" stroke="#666666" stroke-width="1" stroke-linecap="butt"/>
<text x="352.4" y="540.3" font-family='"Liberation Sans", sans-serif' font-size="16" font-weight="normal" font-style="normal" text-anchor="end" textLength="17.8" lengthAdjust="spacingAndGlyphs" stroke="#000" stroke-width="0.35">15</text>
<line x1="361.95" y1="513.6" x2="366.75" y2="513.6" stroke="#666666" stroke-width="1" stroke-linecap="butt"/>
<text x="352.4" y="517.8" font-family='"Liberation Sans", sans-serif' font-size="16" font-weight="normal" font-style="normal" text-anchor="end" textLength="17.8" lengthAdjust="spacingAndGlyphs" stroke="#000" stroke-width="0.35">20</text>
<line x1="361.95" y1="490.4" x2="366.75" y2="490.4" stroke="#666666" stroke-width="1" stroke-linecap="butt"/>
<text x="352.4" y="494.6" font-family='"Liberation Sans", sans-serif' font-size="16" font-weight="normal" font-style="normal" text-anchor="end" textLength="17.8" lengthAdjust="spacingAndGlyphs" stroke="#000" stroke-width="0.35">25</text>
<line x1="361.75" y1="606" x2="518.75" y2="606" stroke="#b4b4b4" stroke-width="1" stroke-linecap="butt"/>
<line x1="366.75" y1="606" x2="366.75" y2="611" stroke="#555" stroke-width="1" stroke-linecap="butt"/>
<line x1="417.5" y1="606" x2="417.5" y2="611" stroke="#555" stroke-width="1" stroke-linecap="butt"/>
<line x1="468" y1="606" x2="468" y2="611" stroke="#555" stroke-width="1" stroke-linecap="butt"/>
<line x1="518.75" y1="606" x2="518.75" y2="611" stroke="#555" stroke-width="1" stroke-linecap="butt"/>
<line x1="417.5" y1="606" x2="417.5" y2="611" stroke="#6a6a6a" stroke-width="1" stroke-linecap="butt"/>
<line x1="468" y1="606" x2="468" y2="611" stroke="#6a6a6a" stroke-width="1" stroke-linecap="butt"/>
<line x1="518.75" y1="606" x2="518.75" y2="611" stroke="#6a6a6a" stroke-width="1" stroke-linecap="butt"/>
<line x1="382.5" y1="541.65" x2="382.5" y2="563" stroke="#000" stroke-width="2.8" stroke-linecap="round"/>
<rect x="374.25" y="562" width="17.75" height="44" fill="#000"/>
<line x1="399.5" y1="592.9" x2="399.5" y2="597.25" stroke="#000" stroke-width="2.8" stroke-linecap="round"/>
<rect x="391.35" y="597.2" width="16.45" height="8.45" fill="#999999" stroke="#000" stroke-width="1.9"/>
<line x1="399.5" y1="595.75" x2="399.5" y2="597.75" stroke="#000" stroke-width="2.8" stroke-linecap="butt"/>
<line x1="433.4" y1="551.3" x2="433.4" y2="558.9" stroke="#000" stroke-width="2.8" stroke-linecap="round"/>
<rect x="424.8" y="557.9" width="18.5" height="48.1" fill="#000"/>
<line x1="482.9" y1="516.4" x2="482.9" y2="529.4" stroke="#000" stroke-width="2.8" stroke-linecap="round"/>
<rect x="474.5" y="528.4" width="18.4" height="77.6" fill="#000"/>
<line x1="500" y1="590.4" x2="500" y2="599.75" stroke="#000" stroke-width="2.8" stroke-linecap="round"/>
<rect x="492.35" y="599.7" width="16.2" height="5.95" fill="#999999" stroke="#000" stroke-width="1.9"/>
<line x1="500" y1="598.25" x2="500" y2="600.25" stroke="#000" stroke-width="2.8" stroke-linecap="butt"/>
<rect x="442.75" y="606" width="15.25" height="8" fill="#999999" stroke="#000" stroke-width="1.5"/>
<line x1="450.5" y1="603.8" x2="450.5" y2="614.4" stroke="#000" stroke-width="2.8" stroke-linecap="round"/>
<text x="433.1" y="552.96" font-family='"Liberation Sans", sans-serif' font-size="16" font-weight="normal" font-style="normal" text-anchor="middle" letter-spacing="0.5" stroke="#000" stroke-width="0.3">***</text>
<text x="483.1" y="519.86" font-family='"Liberation Sans", sans-serif' font-size="16" font-weight="normal" font-style="normal" text-anchor="middle" letter-spacing="0.5" stroke="#000" stroke-width="0.3">**</text>
<path d="M423.1 536.1 V527.6 H460.6 V536.1" fill="none" stroke="#000" stroke-width="1.6" stroke-linejoin="miter"/>
<path d="M435.95 526.6 L439.2 514.9 L440.5 514.9 L436.65 526.6 Z" fill="#000"/>
<line x1="436.8" y1="518.3" x2="441.2" y2="517.8" stroke="#000" stroke-width="0.95" stroke-linecap="butt"/>
<path d="M443.1 526.6 L446.35 514.9 L447.65 514.9 L443.8 526.6 Z" fill="#000"/>
<line x1="443.95" y1="518.3" x2="448.35" y2="517.8" stroke="#000" stroke-width="0.95" stroke-linecap="butt"/>
<path d="M473.65 502.1 V493.95 H511.15 V502.1" fill="none" stroke="#000" stroke-width="1.6" stroke-linejoin="miter"/>
<path d="M486.85 492.8 L490.1 481.1 L491.4 481.1 L487.55 492.8 Z" fill="#000"/>
<line x1="487.7" y1="484.5" x2="492.1" y2="484" stroke="#000" stroke-width="0.95" stroke-linecap="butt"/>
<path d="M494 492.8 L497.25 481.1 L498.55 481.1 L494.7 492.8 Z" fill="#000"/>
<line x1="494.85" y1="484.5" x2="499.25" y2="484" stroke="#000" stroke-width="0.95" stroke-linecap="butt"/>
<text transform="translate(392.3,659.7) scale(0.91,1)" x="0" y="0" font-family='"Liberation Sans", sans-serif' font-size="17" font-weight="bold" text-anchor="middle">L</text>
<text transform="translate(443.35,659.7) scale(0.91,1)" x="0" y="0" font-family='"Liberation Sans", sans-serif' font-size="17" font-weight="bold" text-anchor="middle">I</text>
<text transform="translate(481,659.7) scale(0.91,1)" x="-1.24 12.07 26.6" y="0" font-family='"Liberation Sans", sans-serif' font-size="17" font-weight="bold">L+I</text>
<text transform="translate(312.2,556.8) rotate(-90)" x="0" y="0" font-family='"Liberation Sans", sans-serif' font-size="15.8" font-weight="bold" text-anchor="middle" stroke="#000" stroke-width="0.3" textLength="133.5" lengthAdjust="spacingAndGlyphs">Percent Increase</text>
</svg>
</body></html>
